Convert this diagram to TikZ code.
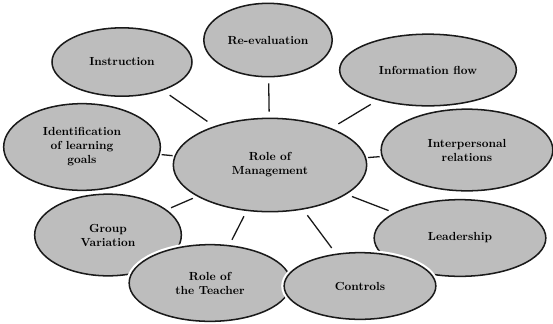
\documentclass[tikz,border=0pt]{standalone}
\usepackage{tikz}
\usetikzlibrary{shapes.geometric,positioning}
\definecolor{ink}{HTML}{1A1A1A}
\definecolor{stipple}{HTML}{BDBDBD}
\tikzset{
  bubble/.style={ellipse,draw=ink,fill=stipple,line width=1.3pt,
                 preaction={draw=white,line width=5pt},
                 inner sep=0pt,align=center,font=\bfseries},
  spoke/.style={draw=ink,line width=1.1pt,shorten >=#1,shorten <=#1}
}
\begin{document}
\begin{tikzpicture}[x=0.03cm,y=-0.03cm]
  \useasboundingbox (0,0) rectangle (553,323);
  % outer ring
  \node[bubble,minimum width=4.7cm,minimum height=2.6cm] (ident) at (82,147) {Identification\\of learning\\goals};
  \node[bubble,minimum width=4.4cm,minimum height=2.45cm] (group) at (108,235) {Group\\Variation};
  \node[bubble,minimum width=4.2cm,minimum height=2.05cm] (instr) at (122,62) {Instruction};
  \node[bubble,minimum width=3.85cm,minimum height=2.2cm] (reeval) at (268,40) {Re-evaluation};
  \node[bubble,minimum width=5.3cm,minimum height=2.15cm] (infoflow) at (428,70) {Information flow};
  \node[bubble,minimum width=5.15cm,minimum height=2.45cm] (interp) at (467,150) {Interpersonal\\relations};
  \node[bubble,minimum width=5.15cm,minimum height=2.3cm] (lead) at (460,238) {Leadership};
  \node[bubble,minimum width=4.85cm,minimum height=2.3cm] (teacher) at (210,283) {Role of\\the Teacher};
  \node[bubble,minimum width=4.55cm,minimum height=2.0cm] (ctrl) at (360,286) {Controls};
  % hub
  \node[bubble,minimum width=5.8cm,minimum height=2.8cm] (mgmt) at (270,165) {Role of\\Management};
  \foreach \n/\s in {ident/1.5pt,group/4pt,instr/7pt,reeval/5pt,infoflow/7pt,
                     interp/1.5pt,lead/5pt,teacher/5pt,ctrl/6pt}
    \draw[spoke=\s] (mgmt) -- (\n);
\end{tikzpicture}
\end{document}
